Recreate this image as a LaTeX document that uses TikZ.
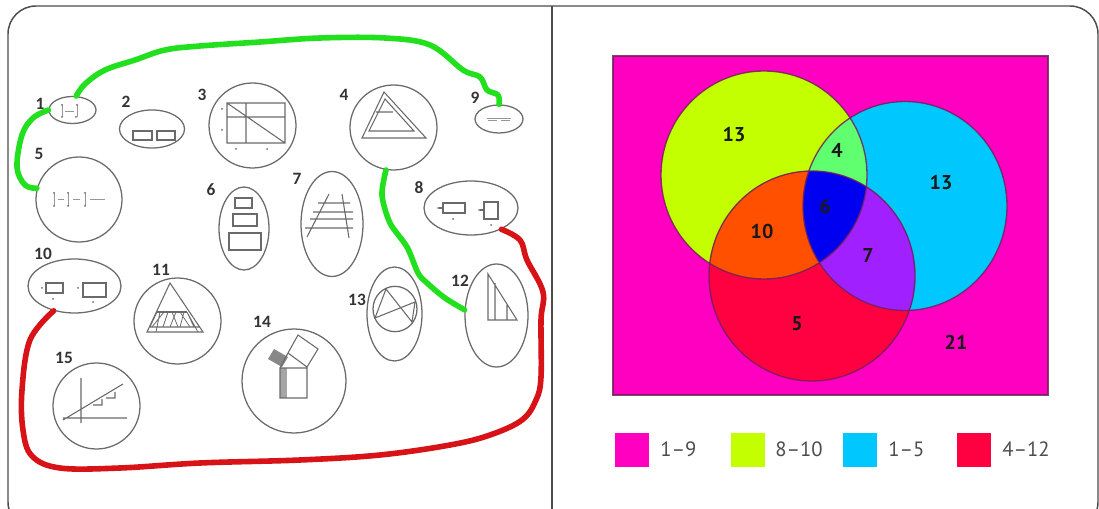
\documentclass[tikz,border=0pt]{standalone}
\usepackage{fontspec}
\setmainfont{PT Sans}
\newfontfamily\lblfont{Carlito}
\usetikzlibrary{shapes.geometric}
\definecolor{cMag}{HTML}{FF00C0}
\definecolor{cYel}{HTML}{C4FF00}
\definecolor{cBlu}{HTML}{00C8FF}
\definecolor{cRed}{HTML}{FF0040}
\definecolor{cYB}{HTML}{60FF70}
\definecolor{cYR}{HTML}{FF5000}
\definecolor{cBR}{HTML}{A020FF}
\definecolor{cAll}{HTML}{0000F0}
\definecolor{cEdge}{HTML}{70205C}
\definecolor{cInk}{HTML}{6A6A6A}
\definecolor{cGreen}{HTML}{22E01E}
\definecolor{cDRed}{HTML}{D81318}
\tikzset{
  x=0.75pt,y=-0.75pt,
  oval/.style={draw=cInk,line width=0.95pt,shape=ellipse,inner sep=0pt,fill=none},
  sketch/.style={draw=cInk,line width=0.8pt},
  tiny mark/.style={draw=cInk!70,line width=0.6pt},
  num/.style={font=\lblfont\bfseries\fontsize{13}{15}\selectfont,text=black!80,inner sep=0pt},
  venn/.style={font=\bfseries\fontsize{15}{17}\selectfont,text=black!90,inner sep=0pt},
  leg/.style={font=\fontsize{15.5}{17}\selectfont,text=black!70,inner sep=0pt},
  route/.style={line width=4.2pt,line cap=round,line join=round},
  swatch/.style={minimum size=25.5pt,inner sep=0pt,draw=none},
  vedge/.style={draw=cEdge,line width=1pt,opacity=0.85},
}
\begin{document}
\begin{tikzpicture}
\useasboundingbox (0,0) rectangle (1099,509);
\clip (0,0) rectangle (1099,509);
% frame
\draw[draw=black!70,line width=1.1pt,rounded corners=21pt] (8,6) rectangle (1098,530);
\draw[black!70,line width=1.3pt] (552,6) -- (552,509);
% ovals
\node[oval,minimum width=35.25pt,minimum height=20.25pt] (e1) at (72.5,110) {};
\node[oval,minimum width=48.75pt,minimum height=28.5pt] (e2) at (152,129) {};
\node[oval,minimum width=65.25pt,minimum height=63.75pt] (e3) at (252.5,125.5) {};
\node[oval,minimum width=65.25pt,minimum height=63.75pt] (e4) at (393.5,127.5) {};
\node[oval,minimum width=64.5pt,minimum height=63.75pt] (e5) at (79,199.5) {};
\node[oval,minimum width=37.5pt,minimum height=62.25pt] (e6) at (244,228.5) {};
\node[oval,minimum width=46.5pt,minimum height=78.75pt] (e7) at (332,224) {};
\node[oval,minimum width=70.5pt,minimum height=40.5pt] (e8) at (471,208) {};
\node[oval,minimum width=36pt,minimum height=21pt] (e9) at (499,119) {};
\node[oval,minimum width=69.75pt,minimum height=40.5pt] (e10) at (74.5,286) {};
\node[oval,minimum width=65.25pt,minimum height=64.5pt] (e11) at (177.5,321) {};
\node[oval,minimum width=47.25pt,minimum height=77.25pt] (e12) at (496.5,315.5) {};
\node[oval,minimum width=41.25pt,minimum height=70.5pt] (e13) at (394.5,314) {};
\node[oval,minimum width=78pt,minimum height=78pt] (e14) at (294,381) {};
\node[oval,minimum width=65.25pt,minimum height=64.5pt] (e15) at (96.5,406) {};
% oval numbers
\node[num] (n1) at (40,104) {1};
\node[num] (n2) at (126,102) {2};
\node[num] (n3) at (202,95) {3};
\node[num] (n4) at (344,95) {4};
\node[num] (n5) at (39,154) {5};
\node[num] (n6) at (211,190) {6};
\node[num] (n7) at (297,179) {7};
\node[num] (n8) at (419,188) {8};
\node[num] (n9) at (475,98) {9};
\node[num] (n10) at (43,254) {10};
\node[num] (n11) at (161,270) {11};
\node[num] (n12) at (460,281) {12};
\node[num] (n13) at (357,300) {13};
\node[num] (n14) at (262,322) {14};
\node[num] (n15) at (64,358) {15};
% sketches inside the ovals
% 1
\draw[tiny mark] (62,105)--(62,117) (77,105)--(77,117) (65,111)--(74,111);
\fill[cInk] (62,105) circle (1) (62,117) circle (1) (77,105) circle (1) (76,117) circle (1);
% 2
\draw[sketch] (133,131) rectangle (152,140) (157,131) rectangle (175,140);
% 3
\draw[sketch] (227,103) rectangle (285,143) (246,103)--(246,143) (227,117)--(285,117) (227,103)--(285,143);
\fill[cInk] (222,109) circle (1) (222,130) circle (1) (236,149) circle (1) (267,149) circle (1);
% 4
\draw[sketch] (384,92)--(362,138)--(426,138)--cycle (385,99)--(369,131)--(414,131)--cycle (376,112)--(393,112);
% 5
\draw[tiny mark] (54,193)--(54,206) (68,193)--(68,206) (85,193)--(85,206) (58,199)--(64,199) (73,199)--(80,199) (90,199)--(105,199);
\fill[cInk] (54,193) circle (1) (54,206) circle (1) (68,193) circle (1) (68,206) circle (1) (85,193) circle (1) (85,206) circle (1);
% 6
\draw[sketch] (235,198) rectangle (252,208) (233,214) rectangle (257,226) (229,233) rectangle (261,250);
% 7
\draw[sketch] (318,203)--(350,203) (313,212)--(353,212) (310,219)--(353,219) (305,228)--(353,228) (329,194)--(307,237) (342,194)--(349,238);
% 8
\draw[sketch] (443,203) rectangle (465,213) (484,202) rectangle (498,219);
\draw[sketch] (443,208)--(439,208) (484,210)--(480,210);
\fill[cInk] (438,208) circle (1) (453,219) circle (1) (479,210) circle (1) (491,225) circle (1);
% 9
\draw[tiny mark] (487,118)--(511,118);
\draw[tiny mark] (488,120)--(497,120) (501,120)--(510,120);
% 10
\draw[sketch] (46,283) rectangle (63,293) (83,283) rectangle (106,297);
\fill[cInk] (42,288) circle (1) (53,299) circle (1) (78,288) circle (1) (93,302) circle (1);
% 11
\draw[sketch] (170,283)--(147,332)--(203,332)--cycle (150,327)--(200,327);
\draw[sketch,line width=1.4pt] (157,312)--(187,312);
\draw[sketch,line width=0.6pt] (157,312)--(150,327) (160,312)--(156,332) (164,312)--(152,327) (168,312)--(163,327) (172,312)--(178,327) (176,312)--(170,327) (180,312)--(190,327) (184,312)--(180,327) (187,312)--(198,332) (187,312)--(194,327);
% 12
\draw[sketch] (488,274)--(488,320)--(517,320)--cycle (495,283)--(495,320) (507,305)--(507,320);
% 13
\node[oval,minimum width=33pt,minimum height=34pt] (c13) at (395,309) {};
\draw[sketch] (386,289)--(375,318)--(415,302)--(412,322)--cycle;
% 14
\fill[cInk!80] (274,349)--(288,357)--(282,367)--(268,359)--cycle;
\fill[cInk!60] (280,368) rectangle (287,398);
\draw[sketch] (298,335)--(318,349)--(307,367)--(288,353)--cycle (280,368) rectangle (307,398) (280,368)--(288,353)--(307,367);
% 15
\draw[sketch] (81,378)--(81,423) (63,418)--(127,418) (63,420)--(123,384) (93,405)--(102,405)--(102,399) (106,398)--(115,398)--(115,392);
% routes
\draw[route,cGreen] plot[smooth,tension=0.6] coordinates {(e1.75) (85,84) (105,70) (135,60) (165,50) (200,46) (260,42) (320,38) (385,38) (430,45) (463,70) (480,77) (487,90) (498,95) (e9.north)};
\draw[route,cGreen] plot[smooth,tension=0.6] coordinates {(e1.west) (33,118) (22,135) (17,167) (25,185) (e5.165)};
\draw[route,cGreen] plot[smooth,tension=0.5] coordinates {(e4.-100) (382,195) (390,223) (407,247) (418,273) (427,283) (445,298) (e12.170)};
\draw[route,cDRed] plot[smooth,tension=0.6] coordinates {(e8.-35) (520,240) (527,260) (543,292) (541,320) (541,377) (536,400) (522,420) (490,435) (450,445) (380,455) (300,460) (200,463) (120,468) (60,468) (32,456) (23,430) (22,390) (30,340) (e10.-130)};
% Venn
\fill[cMag] (613,56) rectangle (1048,395);
\def\cY{(764,175) ellipse [x radius=103,y radius=104]}
\def\cB{(905,206) ellipse [x radius=102,y radius=104.5]}
\def\cR{(812,276) ellipse [x radius=103,y radius=105]}
\fill[cBlu] \cB;
\fill[cYel] \cY;
\fill[cRed] \cR;
\begin{scope}\clip \cY; \fill[cYB] \cB; \end{scope}
\begin{scope}\clip \cY; \fill[cYR] \cR; \end{scope}
\begin{scope}\clip \cB; \fill[cBR] \cR; \end{scope}
\begin{scope}\clip \cY; \clip \cB; \fill[cAll] \cR; \end{scope}
\draw[vedge] (613,56) rectangle (1048,395);
\draw[vedge] \cY;
\draw[vedge] \cB;
\draw[vedge] \cR;
\node[venn] (v1) at (734,135) {13};
\node[venn] (v2) at (837,150) {4};
\node[venn] (v3) at (941,183) {13};
\node[venn] (v4) at (825,207) {6};
\node[venn] (v5) at (762,232) {10};
\node[venn] (v6) at (868,256) {7};
\node[venn] (v7) at (797,324) {5};
\node[venn] (v8) at (956,342) {21};
% legend
\node[swatch,fill=cMag] (s1) at (632,450) {};
\node[swatch,fill=cYel] (s2) at (748,450) {};
\node[swatch,fill=cBlu] (s3) at (860,450) {};
\node[swatch,fill=cRed] (s4) at (973.5,450) {};
\node[leg,anchor=west] (l1) at (660,449) {1–9};
\node[leg,anchor=west] (l2) at (775,449) {8–10};
\node[leg,anchor=west] (l3) at (888,449) {1–5};
\node[leg,anchor=west] (l4) at (1002,449) {4–12};
\end{tikzpicture}
\end{document}
